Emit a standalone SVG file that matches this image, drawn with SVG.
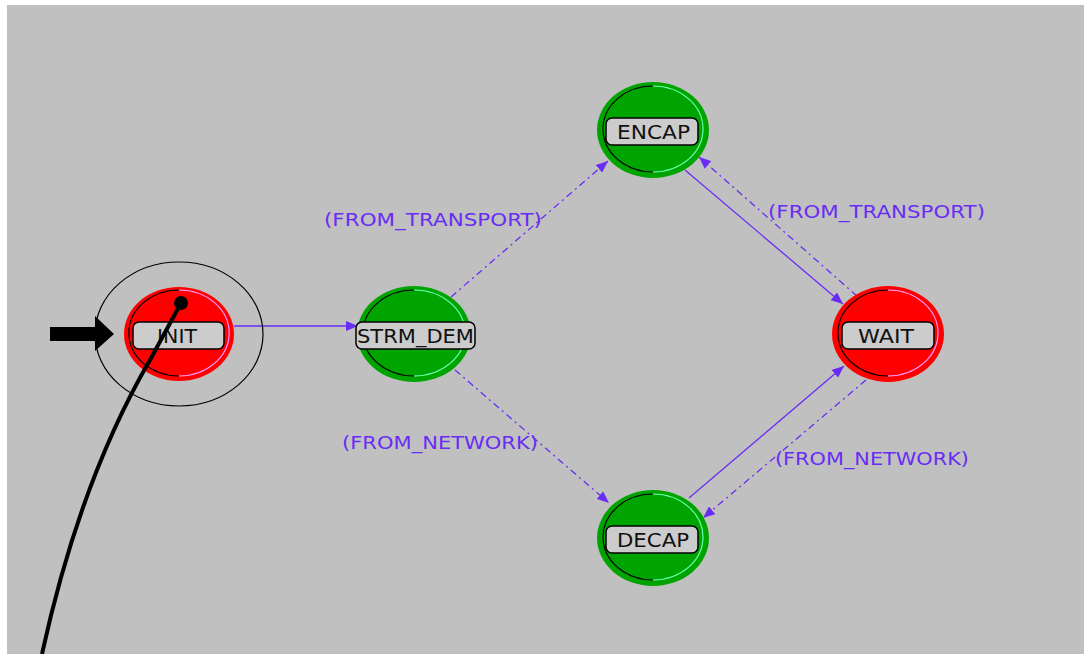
<svg xmlns="http://www.w3.org/2000/svg" width="1084" height="654" viewBox="0 0 1084 654">
<defs>
<style>
.lbl{font-family:"DejaVu Sans","Liberation Sans",sans-serif;font-size:19px;fill:#111}
.tr{font-family:"DejaVu Sans","Liberation Sans",sans-serif;font-size:17px;fill:#6a2cf5}
.box{fill:#cccccc;stroke:#000;stroke-width:1.5}
.sol{stroke:#6a2cf5;stroke-width:1.3;fill:none}
.dsh{stroke:#6a2cf5;stroke-width:1.3;fill:none;stroke-dasharray:7 4 2 4}
.red{fill:#ff0000}
.grn{fill:#00a400}
</style>
<marker id="ah" viewBox="0 0 12 10" refX="12" refY="5" markerWidth="12" markerHeight="10" markerUnits="userSpaceOnUse" orient="auto">
<path d="M0,0 L12,5 L0,10 Z" fill="#6a2cf5"/>
</marker>
</defs>
<rect x="0" y="0" width="1084" height="654" fill="#ffffff"/>
<rect x="7" y="5" width="1077" height="649" fill="#c0c0c0"/>

<g id="connectors">
<line class="sol" x1="234" y1="326" x2="358" y2="326" marker-end="url(#ah)"/>
<line class="dsh" x1="451" y1="297" x2="608" y2="161" marker-end="url(#ah)"/>
<line class="dsh" x1="455" y1="370" x2="609" y2="503" marker-end="url(#ah)"/>
<line class="sol" x1="685" y1="170" x2="843" y2="304" marker-end="url(#ah)"/>
<line class="dsh" x1="857" y1="296" x2="699" y2="157" marker-end="url(#ah)"/>
<line class="sol" x1="689" y1="498" x2="844" y2="366" marker-end="url(#ah)"/>
<line class="dsh" x1="866" y1="380" x2="703" y2="518" marker-end="url(#ah)"/>
<text class="tr" x="324" y="226" textLength="218" lengthAdjust="spacingAndGlyphs">(FROM_TRANSPORT)</text>
<text class="tr" x="342" y="449" textLength="196" lengthAdjust="spacingAndGlyphs">(FROM_NETWORK)</text>
<text class="tr" x="768" y="218" textLength="217" lengthAdjust="spacingAndGlyphs">(FROM_TRANSPORT)</text>
<text class="tr" x="775" y="465" textLength="194" lengthAdjust="spacingAndGlyphs">(FROM_NETWORK)</text>
</g>

<g id="node-init">
<ellipse cx="179" cy="334" rx="84" ry="72" fill="none" stroke="#000" stroke-width="1.2"/>
<ellipse class="red" cx="179" cy="334" rx="55" ry="47"/>
<path d="M179,290 A49,42 0 0,0 179,376" fill="none" stroke="#000" stroke-width="1.2"/>
<path d="M179,290 A49,42 0 0,1 179,376" fill="none" stroke="#ff99ff" stroke-width="1.2"/>
<rect class="box" x="133" y="322" width="91" height="27" rx="6"/>
<text class="lbl" x="157" y="343" textLength="40" lengthAdjust="spacingAndGlyphs">INIT</text>
<path d="M50,327 L95,327 L95,316 L114,334 L95,351 L95,341 L50,341 Z" fill="#000"/>
</g>

<g id="node-strm_dem">
<ellipse class="grn" cx="414" cy="334" rx="57" ry="48"/>
<path d="M414,290 A51,43 0 0,0 414,376" fill="none" stroke="#000" stroke-width="1.2"/>
<path d="M414,290 A51,43 0 0,1 414,376" fill="none" stroke="#66ffaa" stroke-width="1.2"/>
<rect class="box" x="356" y="322" width="119" height="27" rx="6"/>
<text class="lbl" x="357" y="343" textLength="117" lengthAdjust="spacingAndGlyphs">STRM_DEM</text>
</g>

<g id="node-encap">
<ellipse class="grn" cx="653" cy="130" rx="56" ry="48"/>
<path d="M653,86 A50,43 0 0,0 653,172" fill="none" stroke="#000" stroke-width="1.2"/>
<path d="M653,86 A50,43 0 0,1 653,172" fill="none" stroke="#66ffaa" stroke-width="1.2"/>
<rect class="box" x="606" y="118" width="92" height="27" rx="6"/>
<text class="lbl" x="617" y="139" textLength="73" lengthAdjust="spacingAndGlyphs">ENCAP</text>
</g>

<g id="node-decap">
<ellipse class="grn" cx="653" cy="538" rx="56" ry="48"/>
<path d="M653,494 A50,43 0 0,0 653,580" fill="none" stroke="#000" stroke-width="1.2"/>
<path d="M653,494 A50,43 0 0,1 653,580" fill="none" stroke="#66ffaa" stroke-width="1.2"/>
<rect class="box" x="606" y="526" width="92" height="27" rx="6"/>
<text class="lbl" x="617" y="547" textLength="72" lengthAdjust="spacingAndGlyphs">DECAP</text>
</g>

<g id="node-wait">
<ellipse class="red" cx="888" cy="334" rx="56" ry="48"/>
<path d="M888,290 A50,43 0 0,0 888,376" fill="none" stroke="#000" stroke-width="1.2"/>
<path d="M888,290 A50,43 0 0,1 888,376" fill="none" stroke="#ff99ff" stroke-width="1.2"/>
<rect class="box" x="842" y="322" width="92" height="27" rx="6"/>
<text class="lbl" x="858" y="343" textLength="56" lengthAdjust="spacingAndGlyphs">WAIT</text>
</g>

<g id="pointer">
<path d="M181,303 L150,360 Q80,480 42,654" fill="none" stroke="#000" stroke-width="4"/>
<circle cx="181" cy="303" r="7" fill="#000"/>
</g>
</svg>
